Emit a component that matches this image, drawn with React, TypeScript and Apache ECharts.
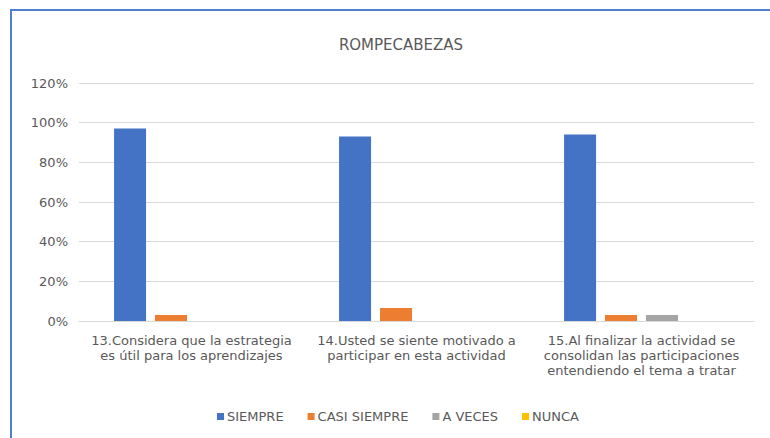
import React, { useEffect, useRef } from "react";
import * as echarts from "echarts";

const categories = [
  "13.Considera que la estrategia\nes útil para los aprendizajes",
  "14.Usted se siente motivado a\nparticipar en esta actividad",
  "15.Al finalizar la actividad se\nconsolidan las participaciones\nentendiendo el tema a tratar",
];
const siempre = [0.97, 0.93, 0.94];
const casiSiempre = [0.03, 0.065, 0.03];
const aVeces = [0, 0, 0.03];
const nunca = [0, 0, 0];
const seriesNames = ["SIEMPRE", "CASI SIEMPRE", "A VECES", "NUNCA"];
const colors = ["#4472C4", "#ED7D31", "#A5A5A5", "#FFC000"];
const title = "ROMPECABEZAS";

const FONT = "DejaVu Sans";
const TXT = "#595959";

export default function App() {
  const ref = useRef<HTMLDivElement>(null);
  useEffect(() => {
    if (!ref.current) return;
    const chart = echarts.init(ref.current, undefined, { renderer: "svg" });
    const data = [siempre, casiSiempre, aVeces, nunca];
    chart.setOption({
      animation: false,
      backgroundColor: "#ffffff",
      title: {
        text: title,
        left: 396,
        textAlign: "center",
        top: 32,
        textStyle: { fontFamily: FONT, fontSize: 15, fontWeight: "normal", color: TXT },
      },
      legend: {
        data: seriesNames,
        left: 212,
        top: 405,
        itemWidth: 7,
        itemHeight: 7,
        itemGap: 24,
        icon: "rect",
        textStyle: { fontFamily: FONT, fontSize: 13, color: TXT, padding: [0, 0, 0, -2] },
      },
      grid: { left: 79, right: 16, top: 83, bottom: 117 },
      xAxis: {
        type: "category",
        data: categories,
        axisLine: { lineStyle: { color: "#d9d9d9" } },
        axisTick: { show: false },
        axisLabel: {
          interval: 0,
          margin: 12,
          fontFamily: FONT,
          fontSize: 13,
          color: TXT,
          lineHeight: 15,
        },
      },
      yAxis: {
        type: "value",
        min: 0,
        max: 1.2,
        interval: 0.2,
        axisLine: { show: false },
        axisTick: { show: false },
        splitLine: { lineStyle: { color: "#d9d9d9", width: 1 } },
        axisLabel: {
          margin: 11,
          fontFamily: FONT,
          fontSize: 13,
          color: TXT,
          formatter: (v: number) => Math.round(v * 100) + "%",
        },
      },
      series: seriesNames.map((name, i) => ({
        name,
        type: "bar",
        data: data[i],
        barWidth: 32,
        barGap: "28%",
        itemStyle: { color: colors[i] },
      })),
      graphic: [
        { type: "rect", shape: { x: 10, y: 9, width: 760, height: 2 }, style: { fill: "#4f7fd6" }, silent: true },
        { type: "rect", shape: { x: 10, y: 9, width: 2, height: 430 }, style: { fill: "#4f7fd6" }, silent: true },
      ],
    });
    return () => chart.dispose();
  }, []);
  return (
    <div
      ref={ref}
      style={{ position: "fixed", left: 0, top: 0, width: 770, height: 438 }}
    />
  );
}
